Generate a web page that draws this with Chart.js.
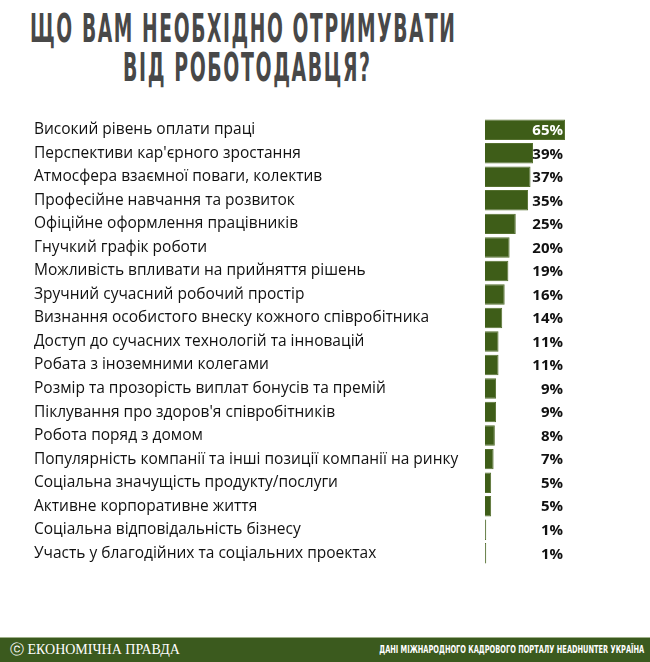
<!DOCTYPE html>
<html>
<head>
<meta charset="utf-8">
<script src="https://cdn.jsdelivr.net/npm/chart.js@4"></script>
<style>
  body { margin: 0; background: #fff; }
  #wrap { position: relative; width: 650px; height: 662px; overflow: hidden; }
  .tl {
    position: absolute; white-space: nowrap;
    font-family: "DejaVu Sans Condensed", "DejaVu Sans", sans-serif;
    font-weight: bold; font-size: 39px; line-height: 39px; color: #484848;
    letter-spacing: 3px; transform-origin: 0 0;
  }
  #chartBox { position: absolute; left: 0; top: 0; width: 650px; height: 636px; }
  #footer {
    position: absolute; left: 0; top: 637px; width: 650px; height: 25px;
    background: #3b5a1e; border-top: 1px solid #9fb08a; color: #fff;
  }
  #logo { position: absolute; left: 10px; top: 3px; font-family: "Liberation Serif", serif; font-size: 14px; }
  #src {
    position: absolute; right: 6px; top: 6px; white-space: nowrap;
    font-family: "DejaVu Sans Condensed", sans-serif; font-weight: bold; font-size: 10px;
    transform-origin: 100% 0;
  }
</style>
</head>
<body>
<div id="wrap">
  <div class="tl" id="t1">ЩО ВАМ НЕОБХІДНО ОТРИМУВАТИ</div>
  <div class="tl" id="t2">ВІД РОБОТОДАВЦЯ?</div>
  <div id="chartBox"><canvas id="c"></canvas></div>
  <div id="footer">
    <div id="logo">&#9426; ЕКОНОМІЧНА ПРАВДА</div>
    <div id="src">ДАНІ МІЖНАРОДНОГО КАДРОВОГО ПОРТАЛУ HEADHUNTER УКРАЇНА</div>
  </div>
</div>
<script>
var categories = [
  "Високий рівень оплати праці",
  "Перспективи кар'єрного зростання",
  "Атмосфера взаємної поваги, колектив",
  "Професійне навчання та розвиток",
  "Офіційне оформлення працівників",
  "Гнучкий графік роботи",
  "Можливість впливати на прийняття рішень",
  "Зручний сучасний робочий простір",
  "Визнання особистого внеску кожного співробітника",
  "Доступ до сучасних технологій та інновацій",
  "Робата з іноземними колегами",
  "Розмір та прозорість виплат бонусів та премій",
  "Піклування про здоров'я співробітників",
  "Робота поряд з домом",
  "Популярність компанії та інші позиції компанії на ринку",
  "Соціальна значущість продукту/послуги",
  "Активне корпоративне життя",
  "Соціальна відповідальність бізнесу",
  "Участь у благодійних та соціальних проектах"
];
var shares = [65, 39, 37, 35, 25, 20, 19, 16, 14, 11, 11, 9, 9, 8, 7, 5, 5, 1, 1];

// squeeze title lines to the widths seen in the picture
function fitLine(id, left, top, width) {
  var el = document.getElementById(id);
  var w = el.getBoundingClientRect().width - 3;
  el.style.left = left + 'px';
  el.style.top = top + 'px';
  el.style.transform = 'scaleX(' + (width / w) + ')';
}
fitLine('t1', 30, 9, 425);
fitLine('t2', 123, 48, 247);
(function () {
  var el = document.getElementById('src');
  var w = el.getBoundingClientRect().width;
  el.style.transform = 'scaleX(' + (265 / w) + ')';
})();

var valueLabels = {
  id: 'valueLabels',
  afterDatasetsDraw: function (chart) {
    var ctx = chart.ctx;
    var meta = chart.getDatasetMeta(0);
    var xs = chart.scales.x;
    ctx.save();
    ctx.font = 'bold 15px "Open Sans", sans-serif';
    ctx.textAlign = 'right';
    ctx.textBaseline = 'middle';
    meta.data.forEach(function (bar, i) {
      ctx.fillStyle = i === 0 ? '#fff' : '#111';
      ctx.fillText(shares[i] + '%', xs.right - 2, bar.y + 1);
    });
    ctx.restore();
  }
};

new Chart(document.getElementById('c'), {
  type: 'bar',
  data: {
    labels: categories,
    datasets: [{
      data: shares,
      backgroundColor: '#3e5d18',
      borderColor: '#55702f',
      borderWidth: 1,
      barPercentage: 0.87,
      categoryPercentage: 1
    }]
  },
  options: {
    indexAxis: 'y',
    responsive: true,
    maintainAspectRatio: false,
    animation: false,
    layout: { padding: { left: 34, right: 85, top: 118, bottom: 71 } },
    plugins: { legend: { display: false }, tooltip: { enabled: false } },
    scales: {
      x: { display: false, min: 0, max: 65 },
      y: {
        grid: { display: false },
        border: { display: false },
        afterFit: function (scale) { scale.width = 451; },
        ticks: {
          crossAlign: 'far',
          color: '#111',
          padding: 0,
          autoSkip: false,
          font: { family: '"Open Sans", sans-serif', size: 15.5 }
        }
      }
    }
  },
  plugins: [valueLabels]
});
</script>
</body>
</html>
